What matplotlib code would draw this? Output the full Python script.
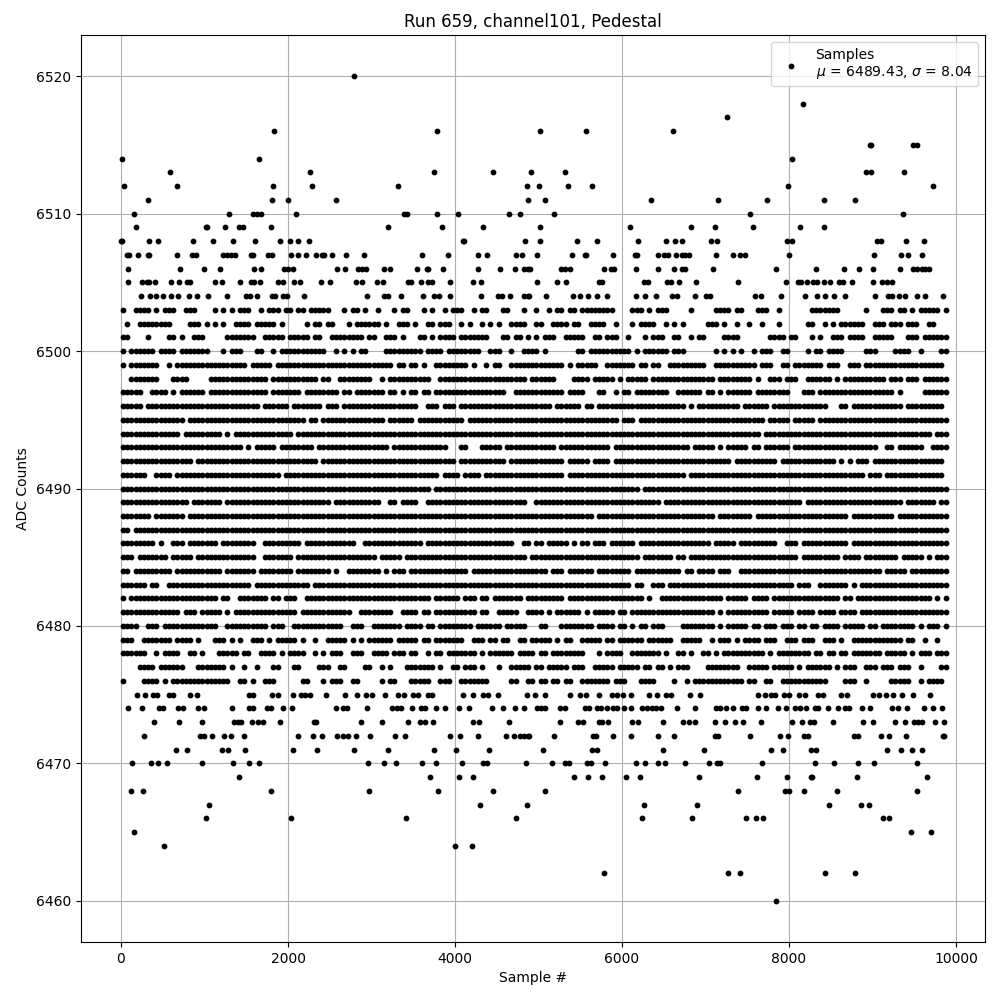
import matplotlib
matplotlib.use("Agg")
import matplotlib.pyplot as plt

TITLE = "Run 659, channel101, Pedestal"
XLABEL = "Sample #"
YLABEL = "ADC Counts"
LEGEND = "Samples\n$\\mu$ = 6489.43, $\\sigma$ = 8.04"
CELL = 50
BLOCK = 500

# Sparse levels: sample numbers
sparse = {
    6520: [2792],
    6518: [8168],
    6517: [7256],
    6516: [1832, 3788, 5012, 5564, 6608],
    6515: [8970, 8985, 9488, 9536],
    6514: [8, 1652, 8036],
    6513: [584, 2264, 3752, 4460, 4916, 5312, 8916, 8976, 9380],
    6512: [32, 668, 1820, 2288, 3320, 4868, 5000, 5348, 5636, 7988, 9728],
    6511: [320, 1808, 2000, 2576, 4880, 5072, 6344, 7148, 7736, 8420, 8792],
    6510: [152, 1292, 1580, 1628, 1676, 2096, 3392, 3428, 3788, 4040, 4652, 4784, 5180, 7532, 9368],
    6509: [176, 1012, 1030, 1244, 1412, 1460, 1796, 3200, 3848, 4340, 5012, 6092, 6824, 7112, 7568, 8132, 8420],
    6508: [0, 12, 332, 440, 860, 1100, 1340, 1604, 1904, 2024, 2120, 2252, 4090, 4110, 4844, 5012, 5456, 5696,
           6188, 6524, 6632, 6716, 7064, 7136, 7976, 8036, 9056, 9104, 9404, 9620],
    6507: [76, 92, 200, 325, 340, 668, 848, 896, 1220, 1268, 1316, 1364, 1560, 1576, 1760, 1808, 2036, 2120, 2216,
           2336, 2410, 2430, 2528, 2696, 2912, 3608, 3920, 4280, 4388, 4736, 4808, 4976, 5396, 5555, 5570, 5888,
           6160, 6175, 6428, 6500, 6548, 6644, 6716, 6760, 6800, 7124, 7328, 7412, 7472, 8000, 9020, 9344, 9428, 9596],
    6506: [80, 704, 992, 1184, 1592, 1676, 1952, 2000, 2060, 2588, 2684, 2840, 2888, 2936, 3152, 3224, 3548, 3660,
           3675, 3860, 4280, 4544, 4724, 4832, 4880, 4904, 5264, 5312, 5372, 5780, 5864, 5900, 6164, 6428, 6620,
           6716, 6752, 7088, 7844, 8324, 8660, 8840, 9008, 9332, 9488, 9528, 9588, 9632, 9680],
    6505: [80, 250, 308, 332, 404, 596, 692, 788, 832, 1124, 1208, 1424, 1556, 1592, 1664, 1880, 1940, 2072, 2140,
           2396, 2504, 2816, 2888, 3068, 3140, 3440, 3476, 3596, 3680, 3728, 3944, 4220, 4308, 4976, 5216, 5324,
           5720, 5756, 6260, 6308, 6536, 6584, 6680, 6884, 7388, 7964, 8108, 8144, 8216, 8288, 8336, 8420, 8492,
           8600, 8648, 8756, 9008, 9116, 9176, 9236],
    6504: [240, 344, 416, 500, 596, 680, 812, 908, 1040, 1268, 1496, 1544, 1628, 1808, 1844, 1940, 1988, 2192, 2948,
           3152, 3200, 3348, 3620, 3752, 3812, 3944, 4316, 4520, 4568, 4664, 4832, 4880, 4892, 5084, 5408, 5492,
           5588, 5696, 5816, 6164, 6272, 6404, 6596, 6656, 6872, 7004, 7052, 7592, 7664, 7904, 8192, 8336, 8432,
           8540, 8672, 9032, 9188, 9236, 9320, 9392, 9536, 9632, 9848],
    6475: [188, 284, 380, 428, 572, 620, 824, 908, 1532, 1580, 1808, 1880, 2060, 2156, 2204, 2264, 2456, 2684, 2828,
           2936, 3008, 3164, 3320, 3392, 3500, 3560, 3680, 3728, 4100, 4220, 4340, 4400, 4520, 4868, 4952, 5072,
           5372, 5492, 5564, 5720, 5876, 5936, 6008, 6104, 6320, 6416, 6524, 6584, 6812, 6932, 7628, 7712, 7784,
           7832, 7940, 8000, 8120, 8192, 8348, 8408, 8624, 8696, 9008, 9080, 9164, 9248, 9356, 9488, 9692],
    6474: [80, 248, 452, 500, 680, 740, 920, 992, 1328, 1532, 1580, 1748, 1796, 1940, 2048, 2576, 2660, 2708, 2948,
           3248, 3300, 3356, 3488, 3596, 3644, 3776, 3884, 4052, 4172, 4448, 4580, 4724, 4832, 4976, 5024, 5072,
           5252, 5312, 5552, 5600, 5696, 5744, 5816, 5888, 5936, 6020, 6104, 6236, 6296, 6356, 6404, 6464, 6656,
           6872, 7124, 7172, 7248, 7328, 7436, 7484, 7624, 7724, 7868, 7964, 8072, 8132, 8204, 8312, 8348, 8468,
           8588, 8672, 8720, 8876, 8972, 9236, 9308, 9416, 9620, 9728, 9836],
    6473: [392, 692, 968, 1352, 1400, 1436, 1568, 1640, 1700, 1904, 2315, 2335, 2876, 3128, 3440, 3584, 3644, 3740,
           4220, 4292, 4652, 5252, 5468, 5528, 5720, 5756, 5828, 6116, 6188, 6488, 6728, 6800, 6872, 7112, 7232,
           7352, 7448, 7664, 8036, 8156, 8252, 8300, 8528, 8888, 9008, 9272, 9392, 9500, 9548, 9596, 9752, 9860],
    6472: [272, 944, 992, 1088, 1232, 1316, 1472, 2120, 2300, 2408, 2588, 2660, 2720, 2816, 2984, 3284, 3404, 3944,
           4064, 4280, 4616, 4712, 4784, 4832, 4880, 4892, 5180, 5648, 5684, 5888, 6104, 6428, 6620, 7112, 7148,
           7532, 7892, 7988, 8180, 8228, 8780, 8828, 9104, 9200, 9404, 9840, 9852],
    6471: [656, 788, 1208, 1280, 1484, 2060, 2348, 2792, 3200, 3752, 4016, 4412, 5048, 5636, 5696, 6488, 6980, 7784,
           7928, 8264, 8324, 9176, 9344, 9476, 9596],
    6470: [128, 356, 440, 548, 968, 1340, 1532, 1652, 2960, 3152, 3296, 3608, 3776, 4088, 4340, 4388, 4856, 5156,
           5312, 5360, 5576, 5624, 5792, 6164, 6272, 6428, 6512, 6752, 7040, 7136, 7172, 7676, 8312, 8540, 8828,
           9020, 9536],
    6469: [1412, 3704, 4052, 4220, 5420, 5588, 5756, 6044, 6212, 6920, 7616, 7976, 8265, 8280, 8816, 9656],
    6468: [116, 260, 1796, 2972, 3800, 4460, 5072, 7388, 7952, 8000, 8180, 8576, 9536],
    6467: [1052, 4304, 4868, 6260, 6896, 8480, 8864, 8960],
    6466: [1016, 2036, 3416, 4736, 6236, 6836, 7484, 7604, 7688, 9128, 9200],
    6465: [152, 9464, 9704],
    6464: [512, 4004, 4208],
    6462: [5780, 7268, 7412, 8432, 8792],
    6460: [7844],
}

# Dense levels: occupancy, ten 50-sample cells per 500-sample block
dense = {
    6503: "#..####.#. ###..###.. ..#.#.#.## #..#.###.# #.##.##### ...#.##.#. .#...#.##. ..#.#..#.# ##..#.##.. .##...#..# ..#.##.##. ########.. ..###.#.## #.....#... ..####.##. ..###..#.. .....##### ##......#. ..###.##.# .#####.#",
    6502: ".#..###### ##....###. #.#.#..### #.#####.#. ....#.##.# #...#.#### ##.#..###. #..##.###. .#.#..#.#. #..####..# #..####.## ..####..#. ..#.####.. #.#.#..... ###.#..#.. #..#...#.. ....##..#. #.######.. ###.###.## #..##...",
    6501: "##....#... .##.#..### .....##### ##..#####. #####.##.. ########.# #..###.#.. .##.#.#### .#######.. .##.##.#.# .###..#### #..##.###. .#...#.### ..##..#.## ....####.. .....####. ##...#.#.. ###.####.. #####...## #.######",
    6500: "#.######.# ###.###### #...#.###. ..##..#.## #########. .#.#.#.##. ...####### ##.####.## ######..## #..#..#### .#.......# #.######## ##.#.##### #.###..... ..#.#.#.#. .#.###..## ....#.##.# ###.....## #....####. .#....##",
    6499: "#.#######. .#.####### ########## .#####.### ########## ########## #####.##.# #.#..##### ###.#..#.# #..####### ######.#.# ####..#### ###.##.##. .######### ..######## ##.###..## .#######.# ##..###.## ########## #######",
    6498: "..#######. ..####.... .######### #####.#### #######.## ..######## ..#.###### ####..#### ########## #######.## ####....## ##.#####.# .#####.### ########## ##.####### #.#..###.# ##..###### .#.####### ###.###.## #.######",
    6497: "#####..### #.#.###### .######### #####.#### ###.###### ##.##.#### ###.##.#.# #.##.##### ########## ##..###### ######.### #...##..#. ##.####### #..######. ##.#.##### #.######## ...###.### ########## #####.#... ..######",
    6496: "#####.#### ########## ########## ###.###### .#######.# ##.####### ########## #..###.### .######### ########## ###.###### .##.###### ########## #####.#.## ########.# #####.#### #########. ..##.##### #######.## #######",
    6495: "########## #####.#### ########## ########## ####.##.## ########## ###.###### .######### ##.####### ########## ########## #########. ###.###### ########## ########## ####.##### .#####.### ########## ########## ########",
    6494: "########## ####.##### ####.#.### ########## #.######## ########## ########## ########## ########## ########## ########## ########## ########## ########## ########## ###.###### ########## ########## ########## ####.###",
    6493: "########## ########## #########. #.#####.## ######.### ########## ####.##### ########.. .##...#### #.######## ####.##### #######.## ########## ######.### ##.#.##### .##.###### .######### ########## #..##.#### ##..####",
    6492: "########## #######.## ########## ########## #######.## ########## ########## ########## .######### ##.####### ######.### ##.####.## ########## ########## ######.### #######.## ########## #.#.#.###. ########## #######",
    6491: "######..## ##.####### ########## ########.# ########## ########## ########## ######.### #.####.### ########## ######.### ########## ########## #####.#### ########## ########## ########## ########.# ##.####### #######",
    6490: "########## ########## ########## ########## ########## ########## ########## ####.##### ########## ########## ########## ########## ####.##### ########## ########## ########## ########## ########## ########## ########",
    6489: "########## ######.### ####.##### ########## ########## .######### ##..##.### #..####### ########## #######..# ########## ########## #########. ########## ########## ########## ###.###### ########## #######.## #####.##",
    6488: "#######.## #####.#### ########## ########## ########## ########## ########## ########## ########## ########## ########## ###.###### ########## ########## ##.####### #.######## ########## ####.##### #####.#### ########",
    6487: "##.####### ########## ########## ########## ########## ########## ########## ########## ########## ########## ########## ########## ########## ########## ########## ########## ########## ########## ########## ########",
    6486: "########.# ..###.#### ###.###### ##..###### ###.###### ######..## ########## ##.####### ########## ####..##.# #.#####.#. ##.###.### ###.###### ########## #.#####.## #######..# ##.####### ####.##### ########## ########",
    6485: "###.###### #.#####.## ########## ##..###### #.######## ########## #.#####.## ########## ########## #######.## ########## ########## ####.##### ##.##.#### ########## ########## ##.####### ##.####.## ######.### ##.#.###",
    6484: "##.####### ##.####### ####.##### ##.####### #.######## .#..###### ##.#.###.# ########## ###.###### ########## ##.###.### ###.###### ##.####### ####.##.## ##.###..## ########## ########## ########## ##.#####.# ########",
    6483: "######.##. .######### ########## #.######## #####.#### ########## ########## ########## ########## ########## ########## ########## ##.##..### .######### ########## ########## #.###..### ####.#.### ########## ########",
    6482: "#.######## ########## ###.##..## #####.##.# ##..###### ########## ########## ####.##### #.###.##.# ######.### ######.### ########## #####.#..# ########## ####.##### .####.#### ########## ##.##.#### ########## ####.#.#",
    6481: "########## ####.###.# ####.#.### ########## ##.####### #####..### #####..### #.##.##### #####.##.. #####..### #.#.###### .#.#####.# #.######## ########## ##.#.##### #####.#### #.####.### #.####.### ########## ########",
    6480: "####..###. ########## ###..##### #####.###. .######### ###..###.. #######.## ##.##.#### ####.##### #.#####... ##...##### ###.####.# #.#.##.### ....###### ##.#.##### .##.###.## #.##.##.## ##.#####.# #.######## .#.###.#",
    6479: "###..##### ##.####.#. ..###.#.#. .###.#.### ##.#..#..# ####.#.#.# #####.#### #.##.##### ##..###.## .##..##.## ###.#.##.. #####.##.# #####.#### ##..#####. .#.###.#.# ###.###..# ##.###..## #.#..##### #######.## ..#..#..",
    6478: "######..#. ####..##.# ...#####.# #..####.#. ####..#.#. ###..###.. ####.###.# #..#.##.## #####.#.## ####.####. ##.####### #...#.#### ..#######. #..##.#..# #.#.###### ####.#.### #####.##.# #.##.##### ##.#####.# .###.###",
    6477: "....####.# #####...## #####.#..# ..#...##.. .##....### ..##....## ..#.#...## #####.#..# #.###.#... #..#####.# #.#####.## #..#####.# ####.##.## .#.###.... ########.. #####.#### #.#.###### .#.###..## #.###.###. .#....##",
    6476: "#....####. #.######## ######..## .#..###... ...##...#. ###..##... ..#.##...# ####..###. .#######.. ...##..##. ##.##.##.. #######.## #...####.. ..#..#.### #########. ##..##..## #########. ...###..#. ....#####. .#.####.",
}

xs, ys = [], []
for level, samples in sparse.items():
    xs.extend(samples)
    ys.extend([level] * len(samples))
for level, row in dense.items():
    for j, block in enumerate(row.split()):
        for k, ch in enumerate(block):
            if ch == "#":
                xs.append(j * BLOCK + k * CELL + CELL // 2)
                ys.append(level)

fig, ax = plt.subplots(figsize=(10, 10), dpi=100)
ax.scatter(xs, ys, s=10, c="black", label=LEGEND, zorder=2)
ax.set_xlim(-479, 10347)
ax.set_ylim(6457, 6523)
ax.set_title(TITLE)
ax.set_xlabel(XLABEL)
ax.set_ylabel(YLABEL)
ax.ticklabel_format(useOffset=False, style="plain")
ax.grid(True)
ax.legend(loc="upper right")
fig.subplots_adjust(left=0.081, right=0.985, top=0.965, bottom=0.058)
fig.savefig("out.png", dpi=100)
